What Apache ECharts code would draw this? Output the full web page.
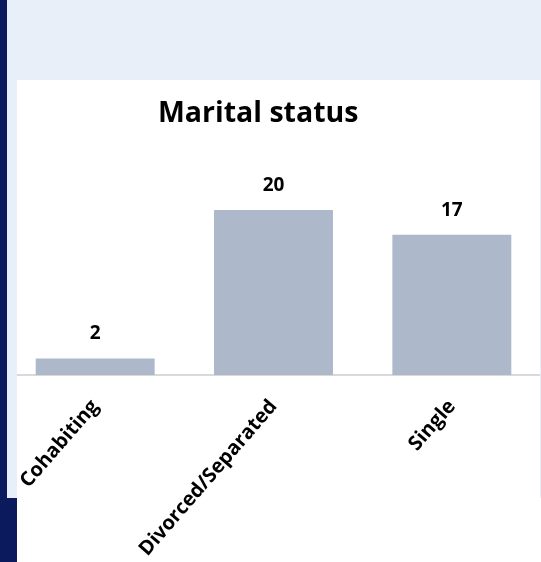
<!DOCTYPE html>
<html>
<head>
<meta charset="utf-8">
<script src="https://cdn.jsdelivr.net/npm/echarts@6/dist/echarts.min.js"></script>
<style>
  body { margin: 0; width: 541px; height: 562px; background: #fff; position: relative; overflow: hidden; }
  #main { position: absolute; left: 0; top: 0; width: 541px; height: 562px; background: #fff; }
  .blk { position: absolute; z-index: 5; }
  #panelTop { left: 7px; top: 0; width: 534px; height: 80px; background: #e8eff9; }
  #panelLeft { left: 7px; top: 80px; width: 10px; height: 418px; background: #e8eff9; }
  #panelRight { left: 540px; top: 80px; width: 1px; height: 418px; background: #e8eff9; }
  #navy { left: 0; top: 0; width: 7px; height: 562px; background: #0b1a5c; }
  #navyBottom { left: 0; top: 498px; width: 17px; height: 64px; background: #0b1a5c; }
</style>
</head>
<body>
<div id="main"></div>
<div id="panelTop" class="blk"></div>
<div id="panelLeft" class="blk"></div>
<div id="panelRight" class="blk"></div>
<div id="navy" class="blk"></div>
<div id="navyBottom" class="blk"></div>
<script>
var categories = ['Cohabiting', 'Divorced/Separated', 'Single'];
var counts = [2, 20, 17];

var myChart = echarts.init(document.getElementById('main'));
var option = {
    animation: false,
    title: {
        text: 'Marital status',
        left: 153,
        top: 94,
        textStyle: {
            fontFamily: 'Open Sans',
            fontWeight: 'bold',
            fontSize: 28.5,
            color: '#000'
        }
    },
    grid: {
        left: 6,
        right: 0,
        top: 127.5,
        bottom: 187
    },
    xAxis: {
        type: 'category',
        data: categories,
        axisLine: { lineStyle: { color: '#d9d9d9', width: 2 } },
        axisTick: { show: false },
        axisLabel: {
            rotate: 49,
            margin: 28,
            color: '#000',
            fontFamily: 'Open Sans',
            fontWeight: 'bold',
            fontSize: 20,
            interval: 0
        }
    },
    yAxis: {
        type: 'value',
        min: 0,
        max: 30,
        show: false
    },
    series: [{
        type: 'bar',
        data: counts,
        barWidth: '66.7%',
        itemStyle: { color: '#adb9ca' },
        label: {
            show: true,
            position: 'top',
            distance: 15,
            color: '#000',
            fontFamily: 'Open Sans',
            fontWeight: 'bold',
            fontSize: 19
        }
    }]
};
myChart.setOption(option);
</script>
</body>
</html>
